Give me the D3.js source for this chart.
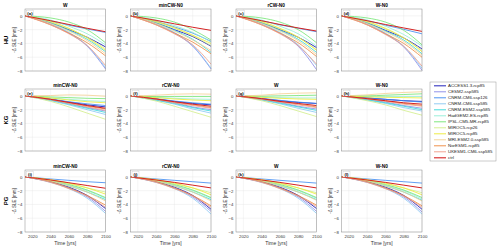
<!DOCTYPE html>
<html>
<head>
<meta charset="utf-8">
<script src="https://cdn.jsdelivr.net/npm/d3@7"></script>
<style>
  body { margin: 0; background: #fff; }
  svg { display: block; font-family: "Liberation Sans", Arial, sans-serif; }
</style>
</head>
<body>
<div id="chart"></div>
<script>
// models, same order as the legend
const models = ['ACCESS1.3-rcp85', 'CESM2-ssp585', 'CNRM-CM6-ssp126', 'CNRM-CM6-ssp585',
  'CNRM-ESM2-ssp585', 'HadGEM2-ES-rcp85', 'IPSL-CM5-MR-rcp85', 'MIROC5-rcp26',
  'MIROC5-rcp85', 'MRI-ESM2.0-ssp585', 'NorESM1-rcp85', 'UKESM1-CM6-ssp585', 'ctrl']
const colors = ['#3434c0', '#8686e6', '#3a88f0', '#86c6f2', '#30d8d8', '#90eed6', '#70e470',
  '#d0ee88', '#ecea30', '#f4d090', '#ee8638', '#f09a86', '#d42222']

const years = [2012, 2040, 2060, 2080, 2100]
const xTicks = [2020, 2040, 2060, 2080, 2100]
const yTicks = [0, -2, -4, -6, -8]
const rowNames = ['HU', 'KG', 'PG']
const titles = [
  ['W', 'minCW-N0', 'rCW-N0', 'W-N0'],
  ['minCW-N0', 'rCW-N0', 'W', 'W-N0'],
  ['minCW-N0', 'rCW-N0', 'W', 'W-N0']
]
const letters = ['a', 'b', 'c', 'd', 'e', 'f', 'g', 'h', 'i', 'j', 'k', 'l']

// -ΔSLE [mm] at 2040, 2060, 2080, 2100 (0 at start), one row per model
const HU_W = [[-1.0,-2.0,-3.1,-4.5],[-1.2,-2.5,-4.4,-7.7],[-0.75,-1.35,-1.9,-2.4],[-1.2,-2.4,-4.3,-7.5],
  [-1.0,-2.1,-3.4,-5.2],[-0.6,-1.5,-2.6,-4.2],[-0.3,-0.9,-2.0,-3.9],[-0.9,-1.9,-3.1,-4.8],
  [-0.8,-1.8,-3.2,-5.0],[-1.1,-2.2,-3.6,-5.5],[-1.3,-2.5,-3.9,-5.8],[-1.3,-2.6,-4.3,-7.2],[-0.7,-1.25,-1.8,-2.3]]
const HU_minCW = [[-1.0,-2.0,-3.0,-4.4],[-1.2,-2.5,-4.4,-7.7],[-0.8,-1.6,-2.5,-3.7],[-1.2,-2.4,-4.3,-7.6],
  [-1.0,-2.1,-3.4,-5.3],[-0.6,-1.4,-2.4,-3.8],[-0.3,-0.9,-2.0,-3.5],[-0.9,-1.8,-2.9,-4.3],
  [-0.8,-1.7,-2.8,-4.0],[-1.1,-2.2,-3.5,-5.0],[-1.3,-2.5,-3.8,-5.5],[-1.3,-2.6,-4.2,-7.0],[-0.65,-1.15,-1.65,-2.1]]
const HU_rCW = [[-1.0,-2.0,-3.1,-4.6],[-1.2,-2.5,-4.4,-7.8],[-0.7,-1.3,-1.8,-2.3],[-1.2,-2.4,-4.2,-7.2],
  [-1.0,-2.1,-3.4,-5.3],[-0.6,-1.5,-2.6,-4.4],[-0.3,-0.9,-2.0,-3.9],[-0.9,-1.9,-3.1,-4.9],
  [-0.8,-1.8,-3.1,-5.0],[-1.1,-2.2,-3.6,-5.6],[-1.3,-2.5,-3.9,-5.9],[-1.3,-2.6,-4.3,-7.0],[-0.7,-1.25,-1.75,-2.2]]
const HU_WN0 = [[-1.0,-2.1,-3.2,-4.8],[-1.2,-2.6,-4.5,-7.9],[-0.7,-1.35,-1.95,-2.6],[-1.2,-2.5,-4.4,-7.6],
  [-1.0,-2.2,-3.5,-5.5],[-0.6,-1.5,-2.7,-4.4],[-0.3,-0.9,-2.1,-4.2],[-0.9,-1.9,-3.2,-5.0],
  [-0.8,-1.8,-3.2,-5.2],[-1.1,-2.3,-3.7,-5.7],[-1.3,-2.6,-4.0,-6.0],[-1.3,-2.7,-4.4,-7.3],[-0.7,-1.25,-1.75,-2.25]]

const KG_minCW = [[-0.5,-0.9,-1.3,-1.6],[-0.6,-1.1,-1.7,-2.2],[-0.45,-0.85,-1.15,-1.4],[-0.7,-1.3,-2.0,-2.7],
  [-0.6,-1.2,-1.8,-2.4],[-0.3,-0.5,-0.7,-0.8],[-0.15,-0.25,-0.35,-0.4],[-0.8,-1.6,-2.5,-3.4],
  [-0.3,-0.6,-0.85,-1.0],[0.05,0.15,0.1,-0.05],[-0.5,-1.0,-1.5,-1.9],[-0.55,-1.1,-1.6,-2.1],[-0.5,-0.95,-1.4,-1.8]]
const KG_rCW = [[-0.45,-0.8,-1.1,-1.3],[-0.55,-1.0,-1.6,-2.0],[-0.4,-0.75,-1.0,-1.2],[-0.65,-1.2,-1.9,-2.5],
  [-0.6,-1.1,-1.7,-2.2],[-0.2,-0.35,-0.45,-0.5],[-0.1,-0.1,-0.1,-0.1],[-0.75,-1.5,-2.3,-3.1],
  [-0.25,-0.45,-0.6,-0.7],[0.1,0.25,0.3,0.25],[-0.45,-0.9,-1.3,-1.7],[-0.5,-1.0,-1.4,-1.8],[-0.45,-0.85,-1.2,-1.5]]
const KG_W = [[-0.4,-0.7,-0.95,-1.1],[-0.5,-0.95,-1.5,-1.9],[-0.35,-0.65,-0.9,-1.1],[-0.6,-1.15,-1.8,-2.4],
  [-0.55,-1.05,-1.6,-2.1],[-0.15,-0.25,-0.3,-0.3],[-0.05,0.0,0.05,0.1],[-0.7,-1.4,-2.2,-3.0],
  [-0.2,-0.35,-0.45,-0.5],[0.1,0.3,0.4,0.45],[-0.45,-0.8,-1.2,-1.6],[-0.5,-0.9,-1.3,-1.7],[-0.4,-0.8,-1.1,-1.4]]
const KG_WN0 = [[-0.3,-0.5,-0.7,-0.8],[-0.5,-0.9,-1.4,-1.8],[-0.3,-0.5,-0.7,-0.9],[-0.6,-1.1,-1.7,-2.2],
  [-0.55,-1.0,-1.5,-2.0],[-0.1,-0.1,-0.1,-0.1],[0.0,0.1,0.2,0.3],[-0.7,-1.3,-2.1,-2.8],
  [-0.15,-0.2,-0.25,-0.3],[0.15,0.35,0.5,0.6],[-0.4,-0.7,-1.1,-1.4],[-0.45,-0.8,-1.2,-1.5],[-0.4,-0.7,-1.0,-1.2]]

const PG_minCW = [[-0.7,-1.5,-2.7,-4.6],[-0.75,-1.6,-2.9,-5.0],[-0.3,-0.5,-0.7,-0.85],[-0.8,-1.7,-3.1,-5.3],
  [-0.6,-1.3,-2.2,-3.3],[-0.55,-1.2,-2.0,-3.1],[-0.5,-1.1,-1.9,-3.0],[-0.5,-1.0,-1.6,-2.2],
  [-0.4,-0.9,-1.6,-2.5],[-0.6,-1.3,-2.2,-3.5],[-0.7,-1.6,-2.7,-4.1],[-0.8,-1.7,-2.8,-4.4],[-0.45,-0.85,-1.25,-1.65]]
const PG_rCW = [[-0.7,-1.5,-2.7,-4.7],[-0.75,-1.6,-2.9,-5.0],[-0.3,-0.5,-0.7,-0.9],[-0.8,-1.7,-3.1,-5.4],
  [-0.6,-1.3,-2.2,-3.3],[-0.55,-1.2,-2.0,-3.1],[-0.5,-1.1,-1.9,-3.0],[-0.5,-1.0,-1.6,-2.3],
  [-0.4,-0.9,-1.6,-2.6],[-0.6,-1.3,-2.2,-3.5],[-0.7,-1.6,-2.7,-4.2],[-0.8,-1.7,-2.8,-4.4],[-0.45,-0.8,-1.2,-1.6]]
const PG_W = [[-0.7,-1.5,-2.7,-4.6],[-0.75,-1.6,-2.9,-5.0],[-0.3,-0.5,-0.7,-0.9],[-0.8,-1.7,-3.1,-5.3],
  [-0.6,-1.3,-2.2,-3.3],[-0.55,-1.2,-2.0,-3.1],[-0.5,-1.1,-1.9,-3.0],[-0.5,-1.0,-1.6,-2.3],
  [-0.4,-0.9,-1.6,-2.5],[-0.6,-1.3,-2.2,-3.4],[-0.7,-1.6,-2.7,-4.1],[-0.8,-1.7,-2.8,-4.3],[-0.45,-0.8,-1.2,-1.6]]
const PG_WN0 = [[-0.7,-1.5,-2.7,-4.7],[-0.75,-1.6,-2.9,-5.1],[-0.3,-0.5,-0.7,-0.9],[-0.8,-1.7,-3.1,-5.4],
  [-0.6,-1.3,-2.2,-3.4],[-0.55,-1.2,-2.0,-3.2],[-0.5,-1.1,-1.9,-3.0],[-0.5,-1.0,-1.6,-2.3],
  [-0.4,-0.9,-1.6,-2.6],[-0.6,-1.3,-2.2,-3.5],[-0.7,-1.6,-2.7,-4.2],[-0.8,-1.7,-2.8,-4.4],[-0.45,-0.8,-1.2,-1.6]]

const panels = [
  [HU_W, HU_minCW, HU_rCW, HU_WN0],
  [KG_minCW, KG_rCW, KG_W, KG_WN0],
  [PG_minCW, PG_rCW, PG_W, PG_WN0]
]

// layout
const W = 500, H = 251
const colX = [25, 130.5, 236, 341.5]
const rowY = [9, 89, 170]
const pw = 80.5, ph = 62

const svg = d3.select('#chart').append('svg').attr('width', W).attr('height', H)

const x = d3.scaleLinear().domain([2012, 2100]).range([0, pw])
const y = d3.scaleLinear().domain([-8, 1]).range([ph, 0])
const line = d3.line()
  .x(d => x(d[0]))
  .y(d => y(d[1]))
  .curve(d3.curveMonotoneX)

panels.forEach((row, r) => {
  // row label
  svg.append('text')
    .attr('transform', 'translate(8,' + (rowY[r] + ph / 2) + ') rotate(-90)')
    .attr('text-anchor', 'middle')
    .attr('font-size', 6)
    .attr('font-weight', 'bold')
    .text(rowNames[r])

  row.forEach((series, c) => {
    const g = svg.append('g').attr('transform', 'translate(' + colX[c] + ',' + rowY[r] + ')')

    // grid
    g.selectAll('.gx').data(xTicks).enter().append('line')
      .attr('x1', d => x(d)).attr('x2', d => x(d)).attr('y1', 0).attr('y2', ph)
      .attr('stroke', '#e6e6e6').attr('stroke-width', 0.4)
    g.selectAll('.gy').data(yTicks).enter().append('line')
      .attr('y1', d => y(d)).attr('y2', d => y(d)).attr('x1', 0).attr('x2', pw)
      .attr('stroke', '#e6e6e6').attr('stroke-width', 0.4)

    // series
    series.forEach((vals, i) => {
      const pts = years.map((yr, k) => [yr, k === 0 ? 0 : vals[k - 1]])
      g.append('path')
        .attr('d', line(pts))
        .attr('fill', 'none')
        .attr('stroke', colors[i])
        .attr('stroke-width', i === 12 || i === 0 ? 1 : 0.8)
    })

    // box
    g.append('rect').attr('width', pw).attr('height', ph)
      .attr('fill', 'none').attr('stroke', '#8a8a8a').attr('stroke-width', 0.5)

    // y ticks
    const yAxis = d3.axisLeft(y).tickValues(yTicks).tickSize(0).tickPadding(2.5)
    const ya = g.append('g').call(yAxis)
    ya.select('.domain').remove()
    ya.selectAll('text').attr('font-size', 4.3).attr('fill', '#333')
      .attr('font-family', '"Liberation Sans", Arial, sans-serif')

    if (r === 2) {
      const xAxis = d3.axisBottom(x).tickValues(xTicks).tickSize(0).tickPadding(3).tickFormat(d3.format('d'))
      const xa = g.append('g').attr('transform', 'translate(0,' + ph + ')').call(xAxis)
      xa.select('.domain').remove()
      xa.selectAll('text').attr('font-size', 4.3).attr('fill', '#333')
        .attr('font-family', '"Liberation Sans", Arial, sans-serif')
      g.append('text')
        .attr('x', pw / 2).attr('y', ph + 12.5)
        .attr('text-anchor', 'middle').attr('font-size', 5).attr('fill', '#333')
        .text('Time [yrs]')
    }

    // y label
    g.append('text')
      .attr('transform', 'translate(-9.5,' + (ph / 2) + ') rotate(-90)')
      .attr('text-anchor', 'middle').attr('font-size', 4.5).attr('fill', '#333')
      .text('-Δ SLE [mm]')

    // title
    g.append('text')
      .attr('x', pw / 2).attr('y', -2)
      .attr('text-anchor', 'middle').attr('font-size', 4.8).attr('font-weight', 'bold')
      .text(titles[r][c])

    // panel letter
    const lab = g.append('g').attr('transform', 'translate(1.5,1.5)')
    lab.append('rect').attr('width', 7).attr('height', 5.5)
      .attr('fill', '#fff').attr('stroke', '#bbb').attr('stroke-width', 0.3)
    lab.append('text').attr('x', 3.5).attr('y', 4.3)
      .attr('text-anchor', 'middle').attr('font-size', 4.3).attr('font-weight', 'bold')
      .text('(' + letters[r * 4 + c] + ')')
  })
})

// legend
const lg = svg.append('g').attr('transform', 'translate(430,82)')
lg.append('rect').attr('width', 66).attr('height', 79)
  .attr('fill', '#fff').attr('stroke', '#999').attr('stroke-width', 0.5)
models.forEach((m, i) => {
  const yy = 3.8 + i * 6
  lg.append('line').attr('x1', 4).attr('x2', 16).attr('y1', yy).attr('y2', yy)
    .attr('stroke', colors[i]).attr('stroke-width', i === 12 || i === 0 ? 1.1 : 0.9)
  lg.append('text').attr('x', 18).attr('y', yy + 1.5)
    .attr('font-size', 4.4).attr('fill', '#222')
    .text(m)
})
</script>
</body>
</html>
